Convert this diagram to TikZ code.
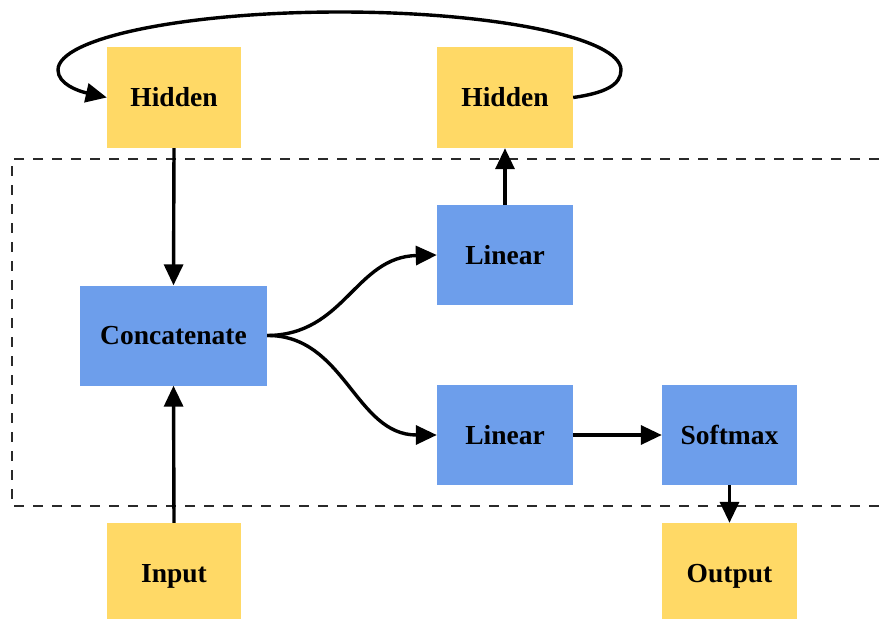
\documentclass[tikz,border=0pt]{standalone}
\usepackage{fontspec}
\setmainfont{Liberation Serif}
\usetikzlibrary{arrows.meta}
\definecolor{ylw}{HTML}{FFD966}
\definecolor{blu}{HTML}{6D9EEB}
\definecolor{dashgray}{HTML}{2A2A2A}
\begin{document}
\begin{tikzpicture}[x=1pt,y=-1pt,
  box/.style={inner sep=0pt, text height=18pt, text depth=0pt, font=\fontsize{27.5}{30}\selectfont\bfseries},
  ybox/.style={box, fill=ylw},
  bbox/.style={box, fill=blu},
  arr/.style={line width=3.4pt, -{Triangle[length=21pt,width=19pt]}},
  frame/.style={line width=2.4pt, draw=dashgray, dash pattern=on 10pt off 9pt}]
\useasboundingbox (0,0) rectangle (879,619);
\draw[frame] (879,159) -- (12,159) -- (12,506) -- (879,506);
\node[ybox, minimum width=134pt, minimum height=101pt] (hl) at (174,97.5) {Hidden};
\node[ybox, minimum width=136pt, minimum height=101pt] (hr) at (505,97.5) {Hidden};
\node[bbox, minimum width=136pt, minimum height=100pt] (lt) at (505,255) {Linear};
\node[bbox, minimum width=187pt, minimum height=100pt] (cc) at (173.5,335.5) {Concatenate};
\node[bbox, minimum width=136pt, minimum height=100pt] (lb) at (505,435) {Linear};
\node[bbox, minimum width=135pt, minimum height=100pt] (sm) at (729.5,435) {Softmax};
\node[ybox, minimum width=134pt, minimum height=100pt] (in) at (174,573) {Input};
\node[ybox, minimum width=135pt, minimum height=100pt] (out) at (729.5,573) {Output};
\coordinate (top) at (340,12);
\coordinate (rgt) at (621,70);
\coordinate (lft) at (58,70);
\draw[arr] (hr.east) .. controls (605,93) and (621,85) .. (rgt)
  .. controls (621,38) and (495,12) .. (top)
  .. controls (185,12) and (58,38) .. (lft)
  .. controls (58,84) and (78,91) .. (hl.west);
\draw[arr] (hl.south) -- (cc.north);
\draw[arr] (in.north) -- (cc.south);
\draw[arr] (cc.east) .. controls (345,335) and (355,257) .. (lt.west);
\draw[arr] (cc.east) .. controls (345,335) and (355,435) .. (lb.west);
\draw[arr] (lt.north) -- (hr.south);
\draw[arr] (lb.east) -- (sm.west);
\draw[arr] (sm.south) -- (out.north);
\end{tikzpicture}
\end{document}
